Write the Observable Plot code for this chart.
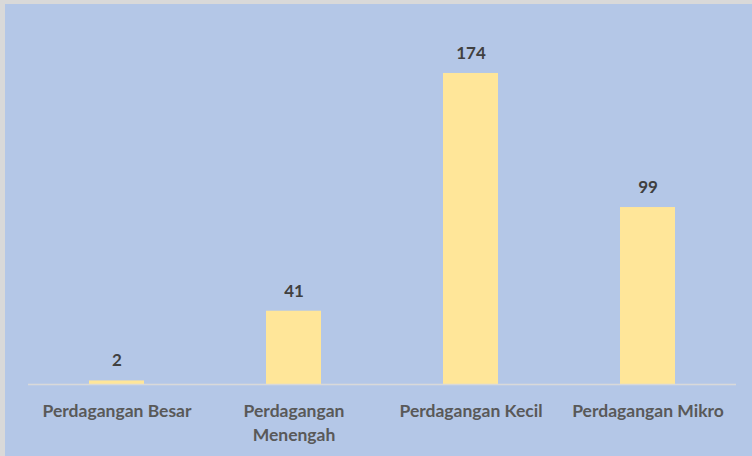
<!DOCTYPE html>
<html>
<head>
<meta charset="utf-8">
<script src="https://cdn.jsdelivr.net/npm/d3@7"></script>
<script src="https://cdn.jsdelivr.net/npm/@observablehq/plot@0.6"></script>
<style>
  html, body { margin: 0; padding: 0; background: #d9d9d9; }
  #wrap { padding: 4px 0 0 5px; width: 747px; height: 452px; overflow: hidden; }
  #wrap svg { background: #B4C7E7; display: block; }
</style>
</head>
<body>
<div id="wrap"></div>
<script>
const categories = ["Perdagangan Besar", "Perdagangan Menengah", "Perdagangan Kecil", "Perdagangan Mikro"];
const values = [2, 41, 174, 99];
const tickLabels = ["Perdagangan Besar", "Perdagangan\nMenengah", "Perdagangan Kecil", "Perdagangan Mikro"];

const data = categories.map((c, i) => ({category: c, value: values[i]}));
const labelOf = new Map(categories.map((c, i) => [c, tickLabels[i]]));

const font = "Lato, 'Open Sans', sans-serif";

const chart = Plot.plot({
  width: 747,
  height: 452,
  marginLeft: 23,
  marginRight: 16,
  marginTop: 22.5,
  marginBottom: 72,
  style: {background: "#B4C7E7", fontFamily: font},
  x: {domain: categories, paddingInner: 0.69, paddingOuter: 0.345, align: 0.5, axis: null},
  y: {domain: [0, 200], axis: null},
  marks: [
    Plot.barY(data, {x: "category", y: "value", fill: "#FFE699"}),
    Plot.ruleY([0], {stroke: "#d9d9d9", strokeWidth: 1.5}),
    Plot.text(data, {x: "category", y: "value", text: d => String(d.value), dy: -20,
      fill: "#404040", fontWeight: "bold", fontSize: 17}),
    Plot.axisX({domain: categories, tickSize: 0, tickPadding: 15.5, tickFormat: c => labelOf.get(c),
      fill: "#595959", fontWeight: "bold", fontSize: 17.5, lineHeight: 1.37, label: null})
  ]
});
document.getElementById("wrap").appendChild(chart);
</script>
</body>
</html>
